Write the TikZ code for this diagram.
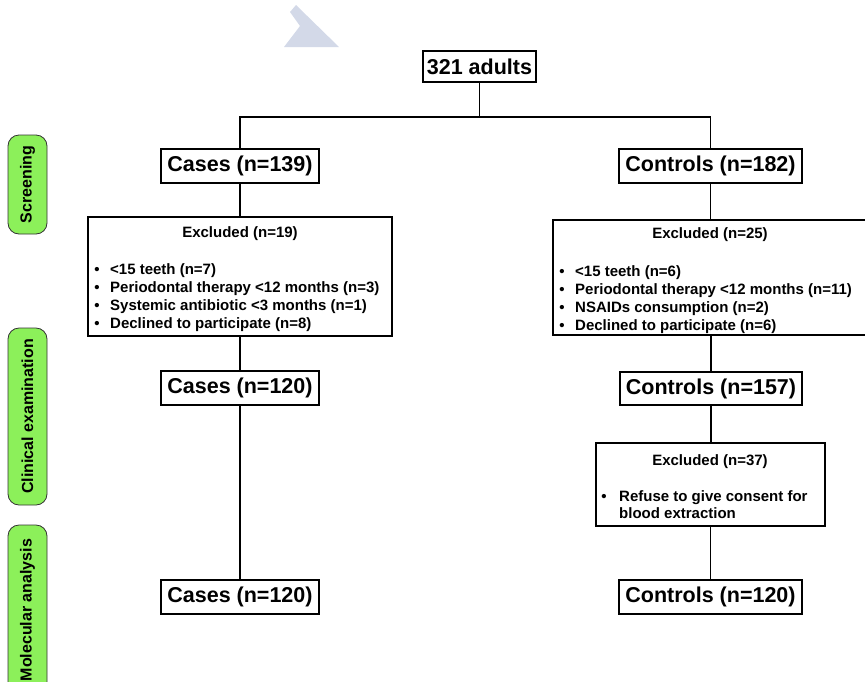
\documentclass[tikz,border=0pt]{standalone}
\usepackage{fontspec}
\setmainfont{Liberation Sans}
\definecolor{pillgreen}{HTML}{8CF05A}
\definecolor{wmark}{HTML}{D3D9E8}
\begin{document}
\begin{tikzpicture}[x=1pt,y=-1pt,
  box/.style={draw, line width=1.2pt, inner sep=0pt, font=\bfseries\fontsize{21.5}{25}\selectfont},
  exbox/.style={draw, line width=1.2pt, inner sep=0pt},
  conn/.style={line width=1.2pt},
  extitle/.style={anchor=base, inner sep=0pt, font=\bfseries\fontsize{15}{18}\selectfont},
  extext/.style={anchor=base west, inner sep=0pt, font=\bfseries\fontsize{15}{18}\selectfont},
  bul/.style={anchor=base, inner sep=0pt, font=\bfseries\fontsize{15}{18}\selectfont},
  pill/.style={draw=black!80, line width=0.8pt, fill=pillgreen, rounded corners=11pt, rotate=90,
     minimum height=39pt, inner sep=0pt, font=\bfseries\fontsize{16}{19}\selectfont}]
\useasboundingbox (0,0) rectangle (865,681);
% watermark
\fill[wmark] (290,12) -- (296,5) -- (339,47) -- (284,47) -- (300,26) -- cycle;
% phase pills
\node[pill, minimum width=99pt] (scr) at (27.5,184.5) {Screening};
\node[pill, minimum width=177pt] (clin) at (27.5,416.5) {Clinical examination};
\node[pill, minimum width=170pt] (mol) at (27.5,610) {Molecular analysis};
% main boxes
\node[box, minimum width=113pt, minimum height=31pt] (adults) at (479.5,66.5) {321 adults};
\node[box, minimum width=158pt, minimum height=34pt] (cases139) at (240,166) {Cases (n=139)};
\node[box, minimum width=183pt, minimum height=34pt] (controls182) at (710.5,166) {Controls (n=182)};
\node[exbox, minimum width=304pt, minimum height=119pt] (excl19) at (240,276.5) {};
\node[exbox, minimum width=316pt, minimum height=115pt] (excl25) at (711,277.5) {};
\node[box, minimum width=158pt, minimum height=34pt] (cases120a) at (240,388) {Cases (n=120)};
\node[box, minimum width=182pt, minimum height=33pt] (controls157) at (711,388.5) {Controls (n=157)};
\node[exbox, minimum width=229pt, minimum height=83pt] (excl37) at (710.5,484.5) {};
\node[box, minimum width=158pt, minimum height=34pt] (cases120b) at (240,597) {Cases (n=120)};
\node[box, minimum width=183pt, minimum height=34pt] (controls120) at (710.5,597) {Controls (n=120)};
% excluded 19 text
\node[extitle] (t19) at (240,237.5) {Excluded (n=19)};
\node[bul] (b19a) at (97,274.5) {•};
\node[bul] (b19b) at (97,292.5) {•};
\node[bul] (b19c) at (97,310.5) {•};
\node[bul] (b19d) at (97,328.5) {•};
\node[extext] (l19a) at (110,274.5) {<15 teeth (n=7)};
\node[extext] (l19b) at (110,292.5) {Periodontal therapy <12 months (n=3)};
\node[extext] (l19c) at (110,310.5) {Systemic antibiotic <3 months (n=1)};
\node[extext] (l19d) at (110,328.5) {Declined to participate (n=8)};
% excluded 25 text
\node[extitle] (t25) at (710,238.5) {Excluded (n=25)};
\node[bul] (b25a) at (562,276.5) {•};
\node[bul] (b25b) at (562,294.5) {•};
\node[bul] (b25c) at (562,312.5) {•};
\node[bul] (b25d) at (562,330) {•};
\node[extext] (l25a) at (575,276.5) {<15 teeth (n=6)};
\node[extext] (l25b) at (575,294.5) {Periodontal therapy <12 months (n=11)};
\node[extext] (l25c) at (575,312.5) {NSAIDs consumption (n=2)};
\node[extext] (l25d) at (575,330) {Declined to participate (n=6)};
% excluded 37 text
\node[extitle] (t37) at (710,465.5) {Excluded (n=37)};
\node[bul] (b37a) at (604,501.5) {•};
\node[extext] (l37a) at (619,501.5) {Refuse to give consent for};
\node[extext] (l37b) at (619,518.5) {blood extraction};
% connectors
\coordinate (bar) at (0,117);
\draw[conn] (adults.south) -- (adults.south |- bar);
\draw[conn] (cases139.north) -- (cases139.north |- bar) -- (controls182.north |- bar) -- (controls182.north);
\draw[conn] (cases139.south) -- (excl19.north);
\draw[conn] (excl19.south) -- (cases120a.north);
\draw[conn] (cases120a.south) -- (cases120b.north);
\draw[conn] (controls182.south) -- (controls182.south |- excl25.north);
\draw[conn] (excl25.south) -- (excl25.south |- controls157.north);
\draw[conn] (controls157.south) -- (controls157.south |- excl37.north);
\draw[conn] (excl37.south) -- (excl37.south |- controls120.north);
\end{tikzpicture}
\end{document}
